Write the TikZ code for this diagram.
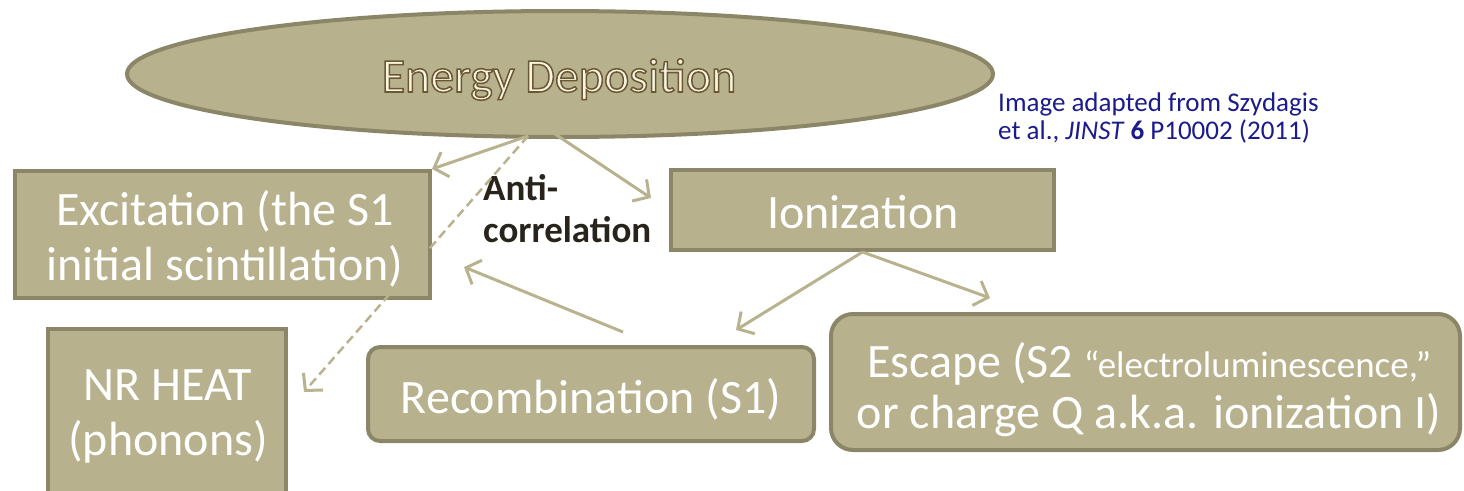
\documentclass[tikz,border=0pt]{standalone}
\usepackage{fontspec}
\setmainfont{Carlito}
\usetikzlibrary{arrows.meta,shapes.geometric}
\definecolor{boxfill}{HTML}{B8B18E}
\definecolor{boxline}{HTML}{8A8667}
\definecolor{arrowc}{HTML}{B9B28F}
\definecolor{navy}{HTML}{1B1B8A}
\definecolor{cream}{HTML}{FAF5DF}
\definecolor{anticol}{HTML}{28241C}
\begin{document}
\begin{tikzpicture}[x=1pt,y=-1pt,
  box/.style={draw=boxline, fill=boxfill, line width=4pt, inner sep=0pt},
  boxtext/.style={text=white, align=center, inner sep=0pt, anchor=base,
    font=\fontsize{48}{55}\selectfont},
  flow/.style={draw=arrowc, line width=3pt,
    -{Straight Barb[length=12pt,width=26pt,line width=3pt]}},
  dflow/.style={flow, dash pattern=on 9pt off 5pt, line width=2.5pt}
]
\useasboundingbox (0,0) rectangle (1464,490);

% ellipse
\node[ellipse, draw=boxline, fill=boxfill, line width=4pt, minimum width=866pt,
      minimum height=126pt, inner sep=0pt] (dep) at (560,74) {};
\node[font=\fontsize{48}{55}\selectfont, inner sep=0pt, anchor=base, text=cream] (dept) at (559,92)
  {\special{pdf:literal direct 2 Tr 1.5 w 0.42 0.34 0.20 RG}Energy Deposition\special{pdf:literal direct 0 Tr 1 w}};

% boxes
\node[box, minimum width=415pt, minimum height=127pt] (exc) at (222.5,234.5) {};
\node[box, minimum width=238pt, minimum height=180pt] (heat) at (167,419) {};
\node[box, minimum width=383pt, minimum height=80pt] (ion) at (862.5,210) {};
\node[box, rounded corners=12pt, minimum width=446pt, minimum height=94pt] (rec) at (591,394) {};
\node[box, rounded corners=22pt, minimum width=629pt, minimum height=136pt] (esc) at (1145.5,382) {};

% box texts (base anchor = baseline of the last line)
\node[boxtext] (exct) at (225,280) {Excitation (the S1\\initial scintillation)};
\node[boxtext] (heatt) at (168,455) {NR HEAT\\(phonons)};
\node[boxtext] (iont) at (863,228) {Ionization};
\node[boxtext] (rect) at (591,413) {Recombination (S1)};
\node[boxtext, font=\fontsize{48}{51}\selectfont] (esct) at (1149,428)
  {Escape (S2 {\fontsize{37}{51}\selectfont “electroluminescence,”}\\or charge Q a.k.a. ionization I)};

% labels
\node[anchor=base west, inner sep=0pt, align=left, text=anticol,
      font=\bfseries\fontsize{37}{42}\selectfont] (anti) at (483,242) {Anti-\\correlation};
\node[anchor=base west, inner sep=0pt, align=left, text=navy,
      font=\fontsize{27}{27.5}\selectfont] (cite) at (998,139)
  {Image adapted from Szydagis\\et al., \textit{JINST} \textbf{6} P10002 (2011)};

% connector end points
\coordinate (dsrc) at (528,136);
\coordinate (isrc) at (525,114);
\coordinate (tipion) at (651,198);
\coordinate (tipheat) at (304,392);
\coordinate (tiprec) at (736,330);
\coordinate (tipesc) at (990,298);
\coordinate (recsrc) at (623,332);
\coordinate (tipexc) at (464,267);

\draw[flow] (dsrc) -- (exc.north east);
\draw[flow] (isrc) -- (tipion);
\draw[dflow] (dsrc) -- (tipheat);
\draw[flow] (ion.south) -- (tiprec);
\draw[flow] (ion.south) -- (tipesc);
\draw[flow] (recsrc) -- (tipexc);
\end{tikzpicture}
\end{document}
